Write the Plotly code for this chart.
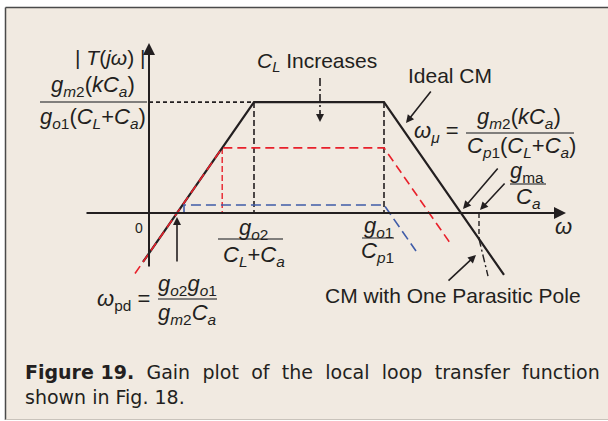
import plotly.graph_objects as go

W, H = 608, 421

# ---- asymptotic gain curves (x: log-frequency in decades, y: gain in dB) ----
ideal_x = [-0.15, 2.625, 5.875, 8.875]
ideal_y = [-17.0, 38.5, 38.5, -21.5]

cl_mid_x = [-0.35, 1.83, 5.875, 7.575]
cl_mid_y = [-21.0, 22.6, 22.6, -11.4]

cl_high_x = [0.875, 0.875, 5.875, 6.675]
cl_high_y = [0.0, 2.8, 2.8, -13.2]

parasitic_x = [8.25, 8.475]
parasitic_y = [-9.0, -21.9]

# break frequencies / levels used by the guide lines
w_z = 2.625          # g_o2 / (C_L + C_a)
w_p1 = 5.875         # g_o1 / C_p1
w_z_mid = 1.83
w_ma = 8.25          # g_ma / C_a
gain_ideal = 38.5
gain_mid = 22.6
gain_at_wma = -9.0

# ---- scale: 40 px per decade, 2.88 px per dB, origin at (149, 213) px ----
OX, OY, SX, SY = 149.0, 213.0, 40.0, 2.88


def X(px):
    return (px - OX) / SX


def Y(py):
    return (OY - py) / SY


BLACK = "#231F20"
RED = "#E8212B"
BLUE = "#3F5CA8"
BG = "#F1EAE1"
FONT = "Liberation Sans"

fig = go.Figure()


def line(xs, ys, color, width, dash="solid"):
    fig.add_trace(go.Scatter(x=xs, y=ys, mode="lines",
                             line=dict(color=color, width=width, dash=dash),
                             hoverinfo="skip", showlegend=False))


# guide lines
line([0, w_z], [gain_ideal, gain_ideal], BLACK, 1.6, "4px,3px")
line([w_z, w_z], [gain_ideal, 0], BLACK, 1.6, "6px,3px")
line([w_p1, w_p1], [gain_ideal, 0], BLACK, 1.6, "6px,3px")
line([w_ma, w_ma], [0, gain_at_wma], BLACK, 1.4, "5px,3px")
line([w_z_mid, w_z_mid], [gain_mid, 0], RED, 1.4, "6px,3px")

# curves
line(ideal_x, ideal_y, BLACK, 2.2)
line(cl_mid_x, cl_mid_y, RED, 1.6, "9px,5px")
line(cl_high_x, cl_high_y, BLUE, 1.6, "10px,5px")
line(parasitic_x, parasitic_y, BLACK, 1.4, "8px,3px,2px,3px")

# "C_L increases" dashed shaft
line([X(320), X(320)], [Y(78), Y(113)], BLACK, 1.6, "8px,3px,2px,3px")

annotations = []


def arrow(tip, tail, width=1.6, size=1.0):
    annotations.append(dict(x=X(tip[0]), y=Y(tip[1]), ax=X(tail[0]), ay=Y(tail[1]),
                            xref="x", yref="y", axref="x", ayref="y", text="",
                            showarrow=True, arrowhead=2, arrowsize=size,
                            arrowwidth=width, arrowcolor=BLACK, standoff=0))


def label(px, py, text, size=22, xanchor="center"):
    annotations.append(dict(x=X(px), y=Y(py), xref="x", yref="y", text=text,
                            showarrow=False, xanchor=xanchor, yanchor="middle",
                            font=dict(family=FONT, size=size, color=BLACK)))


# panel background with a dark top/left rule and a faint bottom rule
shapes = [
    dict(type="rect", xref="paper", yref="paper", layer="below",
         x0=5.5 / W, x1=1.02, y0=(H - 419.5) / H, y1=(H - 7.5) / H,
         fillcolor=BG, line=dict(width=0)),
    dict(type="line", xref="paper", yref="paper", layer="below",
         x0=5.5 / W, x1=1.02, y0=(H - 7.5) / H, y1=(H - 7.5) / H,
         line=dict(color="#4A4A4A", width=1.5)),
    dict(type="line", xref="paper", yref="paper", layer="below",
         x0=5.5 / W, x1=5.5 / W, y0=(H - 420) / H, y1=(H - 7.5) / H,
         line=dict(color="#4A4A4A", width=1.5)),
    dict(type="line", xref="paper", yref="paper", layer="below",
         x0=5.5 / W, x1=1.02, y0=(H - 419.5) / H, y1=(H - 419.5) / H,
         line=dict(color="#C9C3BB", width=1.2)),
]


def bar(x0, x1, py):
    shapes.append(dict(type="line", xref="x", yref="y",
                       x0=X(x0), x1=X(x1), y0=Y(py), y1=Y(py),
                       line=dict(color="#5A5A5A", width=1.4)))


# axes with arrowheads
arrow((149, 43), (149, 268), width=2.0, size=1.2)
arrow((566, 213), (85, 213), width=2.0, size=1.2)

# pointer arrows
arrow((406, 123), (432, 90))
arrow((463, 209), (499, 167))
arrow((480, 210), (506, 182))
arrow((177, 217), (177, 263))
arrow((476, 255), (447, 282))
arrow((320, 122), (320, 111))

# text labels
label(110, 57, "| <i>T</i>(<i>jω</i>) |", size=21)
label(93, 86, "<i>g</i><sub><i>m</i>2</sub>(<i>kC</i><sub><i>a</i></sub>)")
bar(40, 147, 102)
label(93, 118, "<i>g</i><sub><i>o</i>1</sub>(<i>C</i><sub><i>L</i></sub>+<i>C</i><sub><i>a</i></sub>)")

label(317, 62, "<i>C</i><sub><i>L</i></sub> Increases", size=21)
label(450, 75, "Ideal CM", size=21)

label(436, 132, "<i>ω</i><sub><i>μ</i></sub> =")
label(519, 118, "<i>g</i><sub><i>m</i>2</sub>(<i>kC</i><sub><i>a</i></sub>)")
bar(466, 574, 133)
label(521, 147, "<i>C</i><sub><i>p</i>1</sub>(<i>C</i><sub><i>L</i></sub>+<i>C</i><sub><i>a</i></sub>)")

label(527, 172, "<i>g</i><sub>ma</sub>")
bar(510, 546, 184)
label(528, 198, "<i>C</i><sub><i>a</i></sub>")

label(139, 228, "0", size=14)
label(253, 229, "<i>g</i><sub><i>o</i>2</sub>")
bar(218, 283, 239)
label(254, 256, "<i>C</i><sub><i>L</i></sub>+<i>C</i><sub><i>a</i></sub>")

label(378, 227, "<i>g</i><sub><i>o</i>1</sub>")
bar(362, 394, 238)
label(377, 252, "<i>C</i><sub><i>p</i>1</sub>")

label(563, 226, "<i>ω</i>")

label(123, 300, "<i>ω</i><sub>pd</sub> =")
label(187, 285, "<i>g</i><sub><i>o</i>2</sub><i>g</i><sub><i>o</i>1</sub>")
bar(158, 217, 299)
label(187, 314, "<i>g</i><sub><i>m</i>2</sub><i>C</i><sub><i>a</i></sub>")

label(453, 295, "CM with One Parasitic Pole", size=21)

# caption: first line is justified by widening the word gaps
GAP = " \u2004"
caption_line1 = GAP.join(["<b>Figure 19.</b>", "Gain", "plot", "of", "the",
                          "local", "loop", "transfer", "function"])
caption_line2 = "shown in Fig. 18."
annotations.append(dict(x=23 / W, y=1 - 384 / H, xref="paper", yref="paper",
                        text=caption_line1 + "<br>" + caption_line2,
                        showarrow=False, xanchor="left", yanchor="middle", align="left",
                        font=dict(family="DejaVu Sans", size=19, color=BLACK)))

fig.update_layout(
    width=W, height=H, autosize=False,
    margin=dict(l=0, r=0, t=0, b=0),
    paper_bgcolor="white", plot_bgcolor="rgba(0,0,0,0)",
    xaxis=dict(range=[X(0), X(W)], visible=False, fixedrange=True),
    yaxis=dict(range=[Y(H), Y(0)], visible=False, fixedrange=True),
    shapes=shapes, annotations=annotations, showlegend=False,
)

fig.write_html("out.html")
